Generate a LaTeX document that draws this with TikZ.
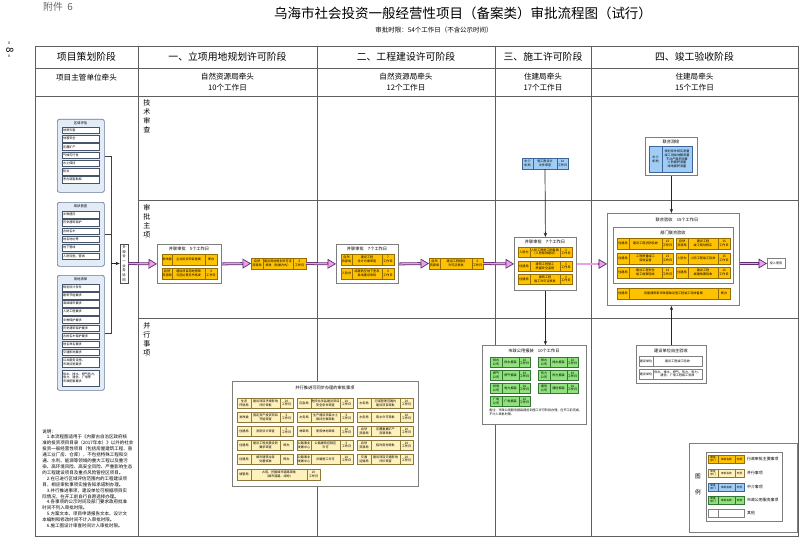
\documentclass[tikz,border=0pt]{standalone}
\usepackage{fontspec}
\setmainfont{Noto Sans CJK SC}
\usepackage{tikz}
\usetikzlibrary{arrows.meta, positioning}

\definecolor{approval}{RGB}{255,194,0}
\definecolor{approvaledge}{RGB}{150,110,0}
\definecolor{parallel}{RGB}{255,241,188}
\definecolor{paralleledge}{RGB}{140,120,60}
\definecolor{agency}{RGB}{160,205,245}
\definecolor{agencyedge}{RGB}{60,100,150}
\definecolor{utility}{RGB}{145,225,125}
\definecolor{utilityedge}{RGB}{50,120,50}
\definecolor{flowedge}{RGB}{95,45,110}
\definecolor{flowfill}{RGB}{235,160,235}
\definecolor{tableline}{RGB}{95,95,95}
\definecolor{boxedge}{RGB}{125,125,125}
\definecolor{planfill}{RGB}{226,235,246}
\definecolor{planedge}{RGB}{100,120,150}

\newcommand{\px}{0.025cm}
\newcommand{\fs}[2]{\fontsize{#1pt}{#2pt}\selectfont}
% one row of an approval item: department | matter | time limit
\newcommand{\mrow}[9]{%
  \node[cell, #2, minimum width=#4*\px, anchor=north west] (#1d) at (#3) {#7};
  \node[cell, #2, minimum width=#5*\px, right=0pt of #1d] (#1m) {#8};
  \node[cell, #2, minimum width=#6*\px, right=0pt of #1m] (#1t) {#9};
}

\begin{document}
\begin{tikzpicture}[
    x=0.025cm, y=-0.025cm,
    frame/.style={draw=tableline, line width=0.7pt},
    headtext/.style={font=\fs{7}{8.5}, inner sep=0pt},
    leadtext/.style={font=\fs{5.4}{8}, align=center, inner sep=0pt},
    sidetext/.style={font=\fs{5}{6.5}, align=center, inner sep=0pt},
    cell/.style={draw, line width=0.3pt, outer sep=0pt, inner sep=0.3pt, align=center,
                 minimum height=11*\px, font=\fs{2.2}{2.6}},
    appr/.style={fill=approval, draw=approvaledge},
    para/.style={fill=parallel, draw=paralleledge},
    agen/.style={fill=agency, draw=agencyedge},
    util/.style={fill=utility, draw=utilityedge},
    other/.style={fill=white, draw=gray},
    stagebox/.style={draw=boxedge, fill=white, line width=0.6pt, anchor=north west, inner sep=0pt},
    boxhead/.style={font=\fs{3}{3.6}, inner sep=0pt},
    planbox/.style={draw=planedge, fill=planfill, line width=0.5pt, rounded corners=1.5pt,
                    anchor=north west, inner sep=0pt, minimum width=47*\px},
    planhead/.style={font=\fs{2.4}{2.8}, inner sep=0pt},
    planitem/.style={draw=planedge!70!black, fill=white, line width=0.3pt, anchor=north west,
                     text width=0.875cm, inner xsep=0.025cm, inner ysep=0.3pt, align=left,
                     minimum height=6.5*\px, font=\fs{2.2}{2.6}},
    flow/.style={draw=flowedge, line width=2pt,
                 -{Triangle[length=6pt, width=7pt, fill=flowfill, line width=0.5pt]},
                 postaction={draw=flowfill, line width=0.9pt, -, shorten >=6.3pt}},
    link/.style={draw=black!85, line width=0.5pt, -{Stealth[length=3pt, width=2.4pt]}},
    bracket/.style={draw=black!75, line width=0.5pt},
    legendtext/.style={font=\fs{2.8}{3.2}, inner sep=0pt, anchor=west},
  ]

  \useasboundingbox (0,0) rectangle (800,538);
  \fill[white] (0,0) rectangle (800,538);

  % title
  \node[font=\fs{7}{8}, text=black!60, inner sep=0pt] (annex) at (58,7) {附件\ \ 6};
  \node[font=\fs{9.6}{11}, inner sep=0pt] (title) at (463,13) {乌海市社会投资一般经营性项目（备案类）审批流程图（试行）};
  \node[font=\fs{4.6}{5}, inner sep=0pt] (subtitle) at (434,30) {审批时限：54个工作日（不含公示时间）};
  \node[font=\fs{7}{8}, rotate=-90, inner sep=0pt] (pageno) at (10,50) {- 8 -};

  % table
  \draw[frame] (35,46) rectangle (798,536);
  \draw[frame] (35,68) -- (798,68);
  \draw[frame] (35,96) -- (798,96);
  \foreach \x in {138,317,495,591}
    \draw[frame] (\x,46) -- (\x,536);
  \draw[frame] (138,200) -- (798,200);
  \draw[frame] (138,318) -- (798,318);

  \node[headtext] (h0) at (86.5,57) {项目策划阶段};
  \node[headtext] (h1) at (227.5,57) {一、立项用地规划许可阶段};
  \node[headtext] (h2) at (406,57) {二、工程建设许可阶段};
  \node[headtext] (h3) at (543,57) {三、施工许可阶段};
  \node[headtext] (h4) at (694.5,57) {四、竣工验收阶段};

  \node[leadtext] (l0) at (86.5,78) {项目主管单位牵头};
  \node[leadtext] (l1) at (227.5,82) {自然资源局牵头\\10个工作日};
  \node[leadtext] (l2) at (406,82) {自然资源局牵头\\12个工作日};
  \node[leadtext] (l3) at (543,82) {住建局牵头\\17个工作日};
  \node[leadtext] (l4) at (694.5,82) {住建局牵头\\15个工作日};

  \node[sidetext, anchor=north] (rowtech) at (147,99) {技\\术\\审\\查};
  \node[sidetext, anchor=north] (rowmain) at (147,204) {审\\批\\主\\项};
  \node[sidetext, anchor=north] (rowpara) at (147,322) {并\\行\\事\\项};

  % project planning
  \node[planbox, minimum height=73*\px] (pa) at (57,119) {};
  \node[planhead] (pahead) at (80.5,123.5) {区域评估};
  \foreach \t [count=\i] in {地质灾害,地震安全,压覆矿产,气候可行性,水土保持,防洪,考古调查勘探}
    \node[planitem] (pa\i) at (62,{127+(\i-1)*8.2}) {\t};

  \node[planbox, minimum height=64*\px] (pb) at (57,202) {};
  \node[planhead] (pbhead) at (80.5,206.5) {现状普查};
  \foreach \t [count=\i] in {文物遗存,历史建筑保护,古树名木,地名地址等,地下管线,人防设施、管线}
    \node[planitem] (pb\i) at (62,{211+(\i-1)*8.3}) {\t};

  \node[planbox, minimum height=115*\px] (pc) at (57,275) {};
  \node[planhead] (pchead) at (80.5,279.5) {用地清单};
  \foreach \t [count=\i] in {规划设计条件,建筑节能要求,海绵城市要求,人防工程要求,文物保护要求,
                             历史建筑保护要求,古树名木保护要求,地名命名要求,交通影响要求}
    \node[planitem] (pc\i) at (62,{284+(\i-1)*8.1}) {\t};
  \node[planitem, minimum height=10*\px] (pc10) at (62,357) {公共服务设施、\\市政设施要求};
  \node[planitem, minimum height=16*\px] (pc11) at (62,369.5) {供水、排水、燃气热力、\\电力、通信、广电等\\市政配套要求};

  \node[draw=black!70, fill=white, line width=0.4pt, minimum width=8*\px, minimum height=39*\px,
        inner sep=0pt, align=center, font=\fs{2.4}{3.3}] (plan) at (124,263.5)
        {多\\规\\合\\一\\业\\务\\协\\同};

  \coordinate (brk) at (111,263.5);
  \draw[bracket] (pa.east) -| (brk);
  \draw[bracket] (pb.east) -| (brk);
  \draw[bracket] (pc.east) -| (brk);
  \draw[link] (brk) -- (plan.west);

  % stage 1
  \node[stagebox, minimum width=64*\px, minimum height=39*\px] (s1box) at (157,244) {};
  \node[boxhead] (s1head) at (189,249) {并联审批\quad 5个工作日};
  \mrow{s1a}{appr}{162,254}{10}{33}{12}{发改委}{企业投资项目备案}{即办}
  \mrow{s1b}{appr}{162,268}{10}{33}{12}{自然\\资源局}{建设项目用地预审\\与选址意见书核发}{5\\工作日}
  \mrow{s1c}{appr}{251,258}{12}{30}{13}{自然\\资源局}{建设用地规划许可证\\核发（划拨方式）}{5\\工作日}

  % stage 2
  \node[stagebox, minimum width=62*\px, minimum height=39*\px] (s2box) at (336,244) {};
  \node[boxhead] (s2head) at (367,249) {并联审批\quad 7个工作日};
  \mrow{s2a}{appr}{341,254}{11}{30}{12}{自然\\资源局}{建设工程\\设计方案审查}{7\\工作日}
  \mrow{s2b}{appr}{341,268}{11}{30}{12}{人防办}{结建防空地下室及\\易地建设审批}{5\\工作日}
  \mrow{s2c}{appr}{429,258}{11}{32}{11}{自然\\资源局}{建设工程规划\\许可证核发}{5\\工作日}

  % stage 3
  \mrow{s3pre}{agen}{522,158}{11}{24}{11}{中介\\机构}{施工图设计\\文件审查}{10\\工作日}
  \node[stagebox, minimum width=62*\px, minimum height=53*\px] (s3box) at (514,237) {};
  \node[boxhead] (s3head) at (545,241.5) {并联审批\quad 7个工作日};
  \mrow{s3a}{appr, minimum height=10*\px}{518,247}{12}{30}{12}{人防办}{人防工程施工图备案\\（人防易地建设）}{3\\工作日}
  \mrow{s3b}{appr, minimum height=10*\px}{518,261}{12}{30}{12}{住建局}{建筑工程施工\\质量安全监督}{3\\工作日}
  \mrow{s3c}{appr, minimum height=10*\px}{518,274}{12}{30}{12}{住建局}{建筑工程\\施工许可证核发}{3\\工作日}

  \node[stagebox, minimum width=104*\px, minimum height=79*\px] (ubox) at (482,345) {};
  \node[boxhead] (uhead) at (534,351) {市政公用报装\quad 10个工作日};
  \mrow{u1}{util, minimum height=10*\px}{490,357}{12}{17}{11}{供水\\公司}{供水报装}{10\\工作日}
  \mrow{u2}{util, minimum height=10*\px}{538,357}{12}{17}{11}{排水\\公司}{排水报装}{10\\工作日}
  \mrow{u3}{util, minimum height=10*\px}{490,370}{12}{17}{11}{燃气\\公司}{燃气报装}{10\\工作日}
  \mrow{u4}{util, minimum height=10*\px}{538,370}{12}{17}{11}{热力\\公司}{热力报装}{10\\工作日}
  \mrow{u5}{util, minimum height=10*\px}{490,383}{12}{17}{11}{供电\\公司}{电力报装}{10\\工作日}
  \mrow{u6}{util, minimum height=10*\px}{538,383}{12}{17}{11}{通信\\公司}{通信报装}{10\\工作日}
  \mrow{u7}{util, minimum height=10*\px}{490,396}{12}{17}{11}{广电\\公司}{广电报装}{10\\工作日}
  \node[font=\fs{2.2}{2.8}, align=left, inner sep=0pt, anchor=north west] (unote) at (489,409)
    {备注：市政公用服务报装提前到施工许可阶段办理，在开工前完成，\\不计入审批时限。};

  % stage 4
  \node[stagebox, minimum width=52*\px, minimum height=38*\px] (mapbox) at (645,137) {};
  \node[boxhead] (maphead) at (671,141.5) {联合测绘};
  \node[cell, agen, minimum width=13*\px, minimum height=26*\px, anchor=north west] (mapd) at (649,146) {中介\\机构};
  \node[cell, agen, minimum width=30*\px, minimum height=26*\px, right=0pt of mapd] (mapm)
    {规划条件核实测量\\竣工测绘地籍测量\\不动产面积测算\\人防面积测量\\绿地面积测量};

  \node[stagebox, minimum width=132*\px, minimum height=92*\px] (s4box) at (607,213) {};
  \node[boxhead] (s4head) at (677,220) {联合验收\quad 15个工作日};
  \node[stagebox, minimum width=120*\px, minimum height=56*\px] (deptbox) at (613,227) {};
  \node[boxhead] (depthead) at (673,232.5) {部门联合验收};
  \mrow{v1}{appr}{617,238}{12}{33}{11}{住建局}{建设工程消防验收}{15\\工作日}
  \mrow{v2}{appr}{617,253}{12}{33}{11}{住建局}{工程质量竣工\\验收监督}{15\\工作日}
  \mrow{v3}{appr}{617,267}{12}{33}{11}{住建局}{建设工程安全\\竣工档案验收}{15\\工作日}
  \mrow{v4}{appr}{676,238}{12}{30}{12}{自然\\资源局}{建设工程\\竣工规划核实}{15\\工作日}
  \mrow{v5}{appr}{676,253}{12}{30}{12}{人防办}{人防工程竣工验收}{15\\工作日}
  \mrow{v6}{appr}{676,267}{12}{30}{12}{住建局}{建设工程\\城建档案验收}{15\\工作日}
  \mrow{v7}{appr}{617,288}{12}{89}{12}{住建局}{房屋建筑和市政基础设施工程竣工验收备案}{即办}

  \node[cell, other, minimum width=18*\px, minimum height=10*\px] (done) at (776,263.5) {投入使用};

  \node[stagebox, minimum width=70*\px, minimum height=38*\px] (selfbox) at (636,345) {};
  \node[boxhead] (selfhead) at (671,351) {建设单位自主验收};
  \node[cell, other, minimum width=14*\px, minimum height=10*\px, anchor=north west] (z1d) at (639,356) {建设单位};
  \node[cell, other, minimum width=49*\px, minimum height=10*\px, right=0pt of z1d] (z1m) {建设工程竣工验收};
  \node[cell, other, minimum width=14*\px, minimum height=10*\px, anchor=north west] (z2d) at (639,369) {建设单位};
  \node[cell, other, minimum width=49*\px, minimum height=10*\px, right=0pt of z2d] (z2m)
    {供水、排水、燃气、热力、电力、\\通信、广电工程竣工验收};

  % parallel items
  \node[stagebox, minimum width=186*\px, minimum height=105*\px] (pbox) at (232,381) {};
  \node[boxhead] (phead) at (325,388) {并行推进可同步办理的审批事项};
  \mrow{p1}{para, minimum height=10*\px}{237,398}{14}{29}{13}{生态\\环境局}{建设项目环境影响\\评价审批}{20\\工作日}
  \mrow{p2}{para, minimum height=10*\px}{297,398}{14}{29}{13}{应急局}{危险化学品建设项目\\安全条件审查}{20\\工作日}
  \mrow{p3}{para, minimum height=10*\px}{357,398}{14}{29}{13}{水务局}{河道管理范围内\\建设项目审批}{20\\工作日}
  \mrow{p4}{para, minimum height=10*\px}{237,412}{14}{29}{13}{发改委}{固定资产投资项目\\节能审查}{5\\工作日}
  \mrow{p5}{para, minimum height=10*\px}{297,412}{14}{29}{13}{水务局}{生产建设项目水土\\保持方案审批}{5\\工作日}
  \mrow{p6}{para, minimum height=10*\px}{357,412}{14}{29}{13}{水务局}{取水许可审批}{20\\工作日}
  \mrow{p7}{para, minimum height=10*\px}{237,426}{14}{29}{13}{住建局}{消防设计审查}{5\\工作日}
  \mrow{p8}{para, minimum height=10*\px}{297,426}{14}{29}{13}{林草局}{使用林地审核}{20\\工作日}
  \mrow{p9}{para, minimum height=10*\px}{357,426}{14}{29}{13}{自然\\资源局}{压覆重要矿产\\资源审批}{20\\工作日}
  \mrow{p10}{para, minimum height=10*\px}{237,440}{14}{29}{13}{住建局}{建设工程抗震设防\\要求审查}{即办}
  \mrow{p11}{para, minimum height=10*\px}{297,440}{14}{29}{13}{公路事业\\发展中心}{公路建筑控制区\\许可}{5\\工作日}
  \mrow{p12}{para, minimum height=10*\px}{357,440}{14}{29}{13}{自然\\资源局}{临时用地审批}{20\\工作日}
  \mrow{p13}{para, minimum height=10*\px}{237,454}{14}{29}{13}{住建局}{城市建筑垃圾\\处置核准}{即办}
  \mrow{p14}{para, minimum height=10*\px}{297,454}{14}{29}{13}{公路事业\\发展中心}{涉路施工许可}{20\\工作日}
  \mrow{p15}{para, minimum height=10*\px}{357,454}{14}{29}{13}{交通\\运输局}{建设项目交通影响\\评价审查}{20\\工作日}
  \mrow{p16}{para, minimum height=11*\px}{237,469}{14}{56}{13}{城管局}{占用、挖掘城市道路审批\\（城市道路、绿地）}{20\\工作日}

  % notes
  \node[font=\fs{3.2}{4.2}, align=left, inner sep=0pt, anchor=north west] (notes) at (42,429)
    {说明：\\
     　1.本流程图适用于《内蒙古自治区政府核\\
     准的投资项目目录（2017年本）》以外的社会\\
     投资一般经营性项目（包括房屋建筑工程、普\\
     通工业厂房、仓库），不包括特殊工程和交\\
     通、水利、能源等领域的重大工程以及重污\\
     染、高环境风险、高安全风险、严重影响生态\\
     的工程建设项目及重点风险管控区项目。\\
     　2.在已进行区域评估范围内的工程建设项\\
     目，相应审批事项实施告知承诺制办理。\\
     　3.并行推进事项，建设单位可根据项目实\\
     际情况，在开工前自行自愿选择办理。\\
     　4.各事项的公示时间及部门要求政府批准\\
     时间不列入审批时限。\\
     　5.方案文本、项目申请报告文本、设计文\\
     本编制和修改时间不计入审批时限。\\
     　6.施工图设计审查时间计入审批时限。};

  % legend
  \node[stagebox, minimum width=108*\px, minimum height=89*\px] (legendframe) at (689,443) {};
  \node[font=\fs{4}{12}, align=center, inner sep=0pt] (legendtitle) at (698,484.5) {图\\例};
  \node[stagebox, minimum width=76*\px, minimum height=69*\px] (legendbox) at (706,452) {};
  \mrow{lg1}{appr, minimum height=8*\px, font=\fs{1.9}{2.3}}{708,455}{10}{17}{9}{审批\\部门}{审批名称}{时限}
  \mrow{lg2}{para, minimum height=8*\px, font=\fs{1.9}{2.3}}{708,469}{10}{17}{9}{审批\\部门}{审批名称}{时限}
  \mrow{lg3}{agen, minimum height=8*\px, font=\fs{1.9}{2.3}}{708,483}{10}{17}{9}{审批\\部门}{审批名称}{时限}
  \mrow{lg4}{util, minimum height=8*\px, font=\fs{1.9}{2.3}}{708,496}{10}{17}{9}{审批\\部门}{审批名称}{时限}
  \node[cell, other, minimum width=10*\px, minimum height=8*\px, anchor=north west] (lg5d) at (708,509) {};
  \node[cell, other, minimum width=26*\px, minimum height=8*\px, right=0pt of lg5d] (lg5m) {};
  \node[legendtext, right=2pt of lg1t] (lgt1) {行政审批主要事项};
  \node[legendtext, right=2pt of lg2t] (lgt2) {并行事项};
  \node[legendtext, right=2pt of lg3t] (lgt3) {中介事项};
  \node[legendtext, right=2pt of lg4t] (lgt4) {市政公用服务事项};
  \node[legendtext, right=2pt of lg5m] (lgt5) {其他};

  % main flow
  \draw[flow] (plan.east) -- (s1box.west);
  \draw[flow] (s1box.east) -- (s1cd.west);
  \draw[flow] (s1ct.east) -- (s2box.west);
  \draw[flow] (s2box.east) -- (s2cd.west);
  \draw[flow] (s2ct.east) -- (s3box.west);
  \draw[flow] (s3box.east) -- (s3box.east -| s4box.west);
  \draw[flow] (s4box.east |- done.west) -- (done.west);

  \draw[link] (s3prem.south) -- (s3box.north);
  \draw[link] (s3box.south) -- (s3box.south |- ubox.north);
  \draw[link] (mapbox.south) -- (mapbox.south |- s4box.north);
  \draw[link] (selfbox.north) -- (selfbox.north |- s4box.south);

\end{tikzpicture}
\end{document}
